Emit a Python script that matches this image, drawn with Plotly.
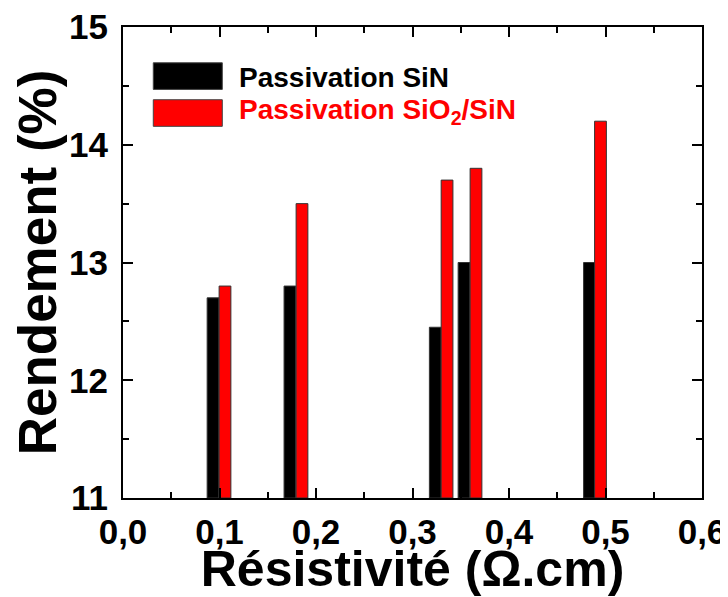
"""Rendement vs resistivite, two passivation schemes."""

import plotly.graph_objects as go

# bar centres (ohm.cm) and efficiencies (%)
sin_x = [0.0933, 0.173, 0.3236, 0.3534, 0.4834]
sin_eff = [12.7, 12.8, 12.45, 13.0, 13.0]
sio2_x = [0.1057, 0.1855, 0.3358, 0.3658, 0.4948]
sio2_eff = [12.8, 13.5, 13.7, 13.8, 14.2]

labels = ['Passivation SiN', 'Passivation SiO<sub>2</sub>/SiN']
colors = ['black', 'red']

FONT = 'Liberation Sans, Arial, sans-serif'
BAR_W = 0.0122

fig = go.Figure()

for xs, ys, name, col in [(sin_x, sin_eff, labels[0], colors[0]),
                          (sio2_x, sio2_eff, labels[1], colors[1])]:
  fig.add_trace(
      go.Bar(
          x=xs,
          y=[v - 11 for v in ys],
          base=11,
          width=BAR_W,
          name=name,
          marker=dict(color=col, line=dict(color='#333333', width=1)),
          showlegend=False,
      )
  )

# hand-made legend with the big rectangles of the original
for i, (name, col) in enumerate(zip(labels, colors)):
  y_top = 0.924 - i * 0.0784
  fig.add_shape(
      type='rect', xref='paper', yref='paper',
      x0=0.0523, x1=0.1715, y0=y_top - 0.0565, y1=y_top,
      fillcolor=col, line=dict(color='#444444', width=1),
  )
  fig.add_annotation(
      x=0.1964, y=y_top - 0.031 + i * 0.006, xref='paper', yref='paper',
      text=name, showarrow=False, xanchor='left', yanchor='middle',
      font=dict(family=FONT, size=28, color=col, weight='bold'),
  )

axis_common = dict(
    showline=True, linecolor='black', linewidth=2, mirror='allticks',
    ticks='inside', ticklen=10, tickwidth=2, tickcolor='black',
    showgrid=False, zeroline=False, automargin=False,
    ticklabeloverflow='allow',
    tickfont=dict(family=FONT, size=35, color='black', weight='bold'),
)

# the page body adds 8px, so the figure is 8px smaller on each side
fig.update_layout(
    width=720, height=589,
    margin=dict(l=115, r=26, t=19, b=99),
    plot_bgcolor='white', paper_bgcolor='white',
    separators=', ',
    barmode='overlay',
    xaxis=dict(
        range=[0, 0.6], dtick=0.1, tickformat='.1f', ticklabelstandoff=2,
        minor=dict(dtick=0.05, ticks='inside', ticklen=6, tickwidth=2,
                   tickcolor='black'),
        title=dict(text='Résistivité (Ω.cm)', standoff=10,
                   font=dict(family=FONT, size=50, color='black',
                             weight='bold')),
        **axis_common,
    ),
    yaxis=dict(
        range=[11, 15], dtick=1, ticklabelstandoff=6,
        minor=dict(dtick=0.5, ticks='inside', ticklen=6, tickwidth=2,
                   tickcolor='black'),
        title=dict(text='Rendement (%)', standoff=10,
                   font=dict(family=FONT, size=53, color='black',
                             weight='bold')),
        **axis_common,
    ),
)

fig.write_html('out.html')
